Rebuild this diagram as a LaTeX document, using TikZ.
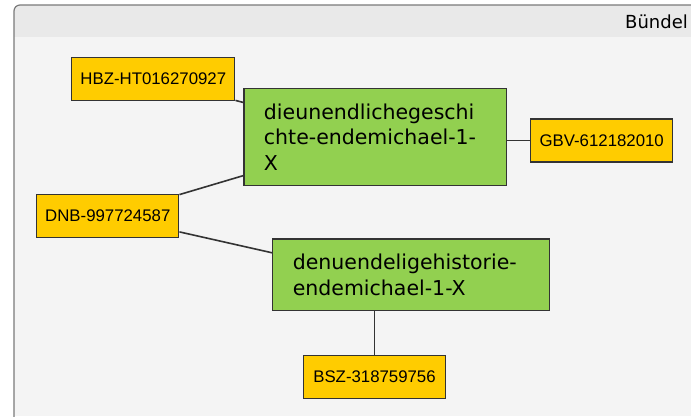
\documentclass[tikz,border=0pt]{standalone}
\usepackage{fontspec}
\setmainfont{Liberation Sans}
\newfontfamily\workfont{DejaVu Sans}
\usetikzlibrary{positioning}
\definecolor{identYellow}{HTML}{FFCC00}
\definecolor{workGreen}{HTML}{92D050}
\definecolor{panelHead}{HTML}{E9E9E9}
\definecolor{panelBody}{HTML}{F4F4F4}
\definecolor{panelLine}{HTML}{7A7A7A}
\definecolor{boxLine}{HTML}{333333}

\begin{document}
\begin{tikzpicture}[
    x=1pt,
    y=-1pt,
    ident/.style={%
      draw=boxLine,
      line width=1.3pt,
      fill=identYellow,
      rectangle,
      minimum width=142pt,
      minimum height=43pt,
      inner sep=0pt,
      font=\fontsize{16.8}{19}\selectfont,
    },
    work/.style={%
      draw=boxLine,
      line width=1.3pt,
      fill=workGreen,
      rectangle,
      inner xsep=20pt,
      inner ysep=0pt,
      align=left,
      font=\workfont\fontsize{20.5}{25.5}\selectfont,
    },
    link/.style={%
      draw=boxLine,
      line width=1.6pt,
    },
  ]

    \useasboundingbox (0,0) rectangle (691,416);
    \fill[white] (0,0) rectangle (691,416);

    % panel with header
    \begin{scope}
      \clip (0,0) rectangle (691,416);
      \begin{scope}
        \clip[rounded corners=6pt] (14,5) rectangle (720,440);
        \fill[panelBody] (0,0) rectangle (691,416);
        \fill[panelHead] (0,0) rectangle (691,37);
      \end{scope}
      \draw[panelLine, line width=1.2pt, rounded corners=6pt] (14,5) rectangle (720,440);
      \node[anchor=base west, inner sep=0pt, font=\workfont\fontsize{18}{20}\selectfont]
        (title) at (625,28) {Bündel};
    \end{scope}

    \node [ident, minimum width=163pt] (HBZ) at (153.3,79) {HBZ-HT016270927};
    \node [ident] (GBV) at (601.7,140.5) {GBV-612182010};
    \node [ident] (DNB) at (107.8,215.8) {DNB-997724587};
    \node [ident] (BSZ) at (374.5,376.7) {BSZ-318759756};

    \node [work, text width=222.7pt, minimum height=97pt] (W1) at (375.3,136.8)
      {dieunendlichegeschi\\chte-endemichael-1-\\X};
    \node [work, text width=237pt, minimum height=71.7pt] (W2) at (411.3,274.8)
      {denuendeligehistorie-\\endemichael-1-X};

    \draw [link] (HBZ) -- (W1);
    \draw [link] (DNB) -- (W1);
    \draw [link] (DNB) -- ([yshift=22pt]W2.west);
    \draw [link] (GBV.west) -- (GBV.west -| W1.east);
    \draw [link] (BSZ.north) -- (BSZ.north |- W2.south);

\end{tikzpicture}
\end{document}
